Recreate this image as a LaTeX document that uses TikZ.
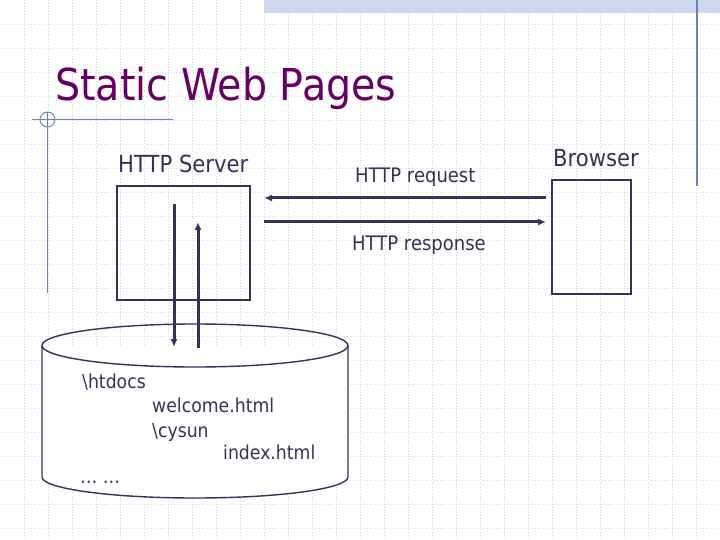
\documentclass[tikz,border=0pt]{standalone}
\usepackage{fontspec}
\setmainfont{DejaVu Sans}[FakeStretch=0.9]
\usetikzlibrary{arrows.meta}
\definecolor{ink}{RGB}{51,51,90}
\definecolor{titlec}{RGB}{102,0,102}
\definecolor{deco}{RGB}{112,128,176}
\definecolor{gridc}{RGB}{215,215,222}
\definecolor{band}{RGB}{205,215,238}
\tikzset{
  box/.style={draw=ink, line width=1.6pt},
  flow/.style={draw=ink, line width=3pt, -{Latex[length=8pt,width=7pt]}},
  lbl/.style={text=ink, anchor=base west, inner sep=0pt, font=\fontsize{20}{24}\selectfont},
  dblbl/.style={lbl, font=\fontsize{19.2}{23}\selectfont},
  big/.style={lbl, font=\fontsize{23.5}{28}\selectfont},
  decoline/.style={draw=deco, line width=1.4pt}
}
\begin{document}
\begin{tikzpicture}[x=1pt,y=-1pt]
\useasboundingbox (0,0) rectangle (720,540);
% background grid
\foreach \i in {1,...,29} \draw[gridc, dotted, line width=0.8pt] (24*\i,0) -- (24*\i,540);
\foreach \j in {1,...,22} \draw[gridc, dotted, line width=0.8pt] (0,24*\j) -- (720,24*\j);
% decorations
\fill[band] (264,0) rectangle (720,13);
\draw[decoline] (697,0) -- (697,186);
\draw[decoline] (32,119.5) -- (173,119.5);
\draw[decoline] (47.5,112) -- (47.5,293);
\draw[deco, line width=0.9pt] (47.5,119.5) circle (7.5);
% title
\node[anchor=base west, inner sep=0pt, text=titlec, font=\fontsize{44}{50}\selectfont] (title) at (55,101) {Static Web Pages};
% server and browser
\node[big] (srvlbl) at (118,173) {HTTP Server};
\node[big] (brwlbl) at (553,167) {Browser};
\node[box, minimum width=133pt, minimum height=114pt, inner sep=0pt] (server) at (183.5,243) {};
\node[box, minimum width=79pt, minimum height=114pt, inner sep=0pt] (browser) at (591.5,237) {};
% request / response
\coordinate (rqs) at (546,198);
\coordinate (rqe) at (264,198);
\coordinate (rss) at (264,222);
\coordinate (rse) at (546,222);
\draw[flow] (rqs) -- (rqe);
\draw[flow] (rss) -- (rse);
\node[lbl] (req) at (355,183) {HTTP request};
\node[lbl] (resp) at (352,251) {HTTP response};
% database cylinder
\coordinate (dbtop) at (195,345.5);
\coordinate (dbbot) at (195,477);
\draw[ink, line width=1.4pt, fill=white] (42,345.5) -- (42,477) arc[start angle=180, end angle=0, x radius=153, y radius=21] -- (348,345.5);
\draw[ink, line width=1.4pt] (dbtop) ellipse[x radius=153, y radius=21.5];
% vertical arrows
\coordinate (dn1) at (174,204);
\coordinate (dn2) at (174,347);
\coordinate (up1) at (198,348);
\coordinate (up2) at (198,222);
\draw[flow] (dn1) -- (dn2);
\draw[flow] (up1) -- (up2);
% contents
\node[dblbl] (htd) at (82,388) {\textbackslash htdocs};
\node[dblbl] (wel) at (152,412) {welcome.html};
\node[dblbl] (cys) at (152,437) {\textbackslash cysun};
\node[dblbl] (idx) at (223,459) {index.html};
\node[dblbl] (dots) at (80,483) {… …};
\end{tikzpicture}
\end{document}
